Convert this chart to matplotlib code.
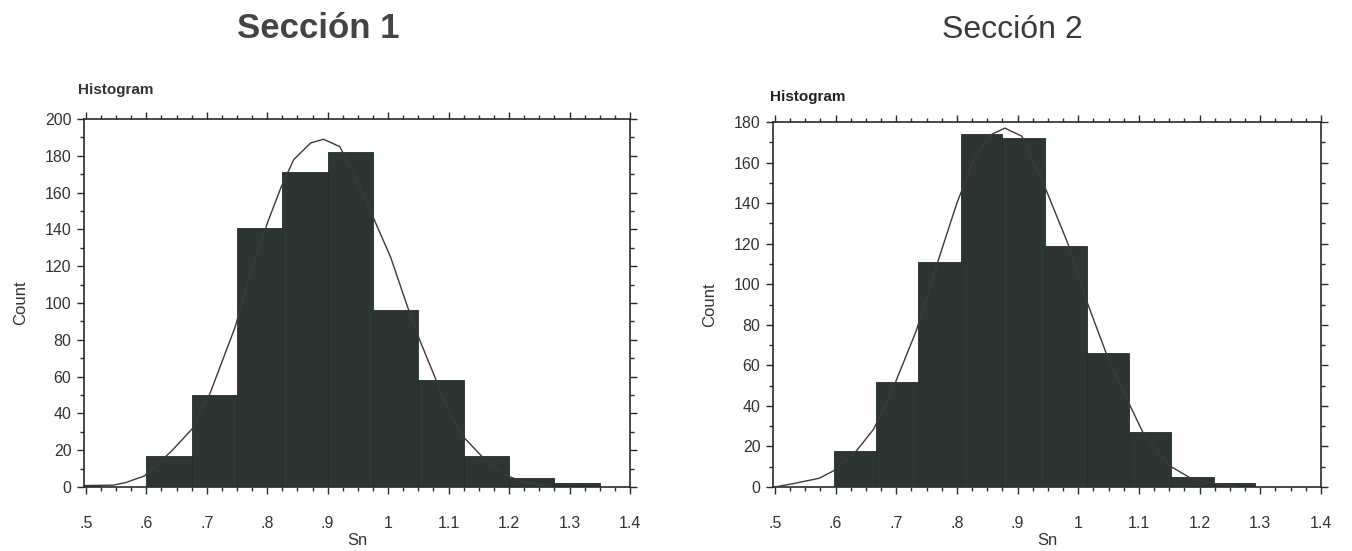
import numpy as np
import matplotlib
matplotlib.use("Agg")
import matplotlib.pyplot as plt
from matplotlib.ticker import MultipleLocator

plt.rcParams['font.family'] = ['Liberation Sans', 'DejaVu Sans']

# ---- Sección 1 ----
sec1_edges = [0.45, 0.525, 0.6, 0.675, 0.75, 0.825, 0.9, 0.975, 1.05, 1.125, 1.2, 1.275, 1.35]
sec1_counts = [1, 0, 17, 50, 141, 171, 182, 96, 58, 17, 5, 2]
sec1_curve_x = [0.5, 0.545, 0.566, 0.597, 0.642, 0.677, 0.705, 0.747, 0.774, 0.802, 0.823,
                0.844, 0.872, 0.893, 0.92, 0.948, 0.972, 1.004, 1.032, 1.052, 1.077, 1.101,
                1.125, 1.157, 1.19, 1.226, 1.26]
sec1_curve_y = [0.8, 1, 2.4, 6, 19.6, 32, 50.5, 87, 118, 145, 163,
                178, 187, 189, 185, 167, 149, 125, 98, 80, 60, 40,
                27, 16, 7, 2.4, 0.5]

# ---- Sección 2 ----
sec2_edges = [0.597, 0.667, 0.736, 0.806, 0.875, 0.945, 1.014, 1.084, 1.153, 1.223, 1.292]
sec2_counts = [18, 52, 111, 174, 172, 119, 66, 27, 5, 2]
sec2_curve_x = [0.5, 0.531, 0.573, 0.597, 0.635, 0.663, 0.698, 0.733, 0.768, 0.8, 0.83,
                0.858, 0.879, 0.907, 0.94, 0.983, 1.011, 1.046, 1.084, 1.108, 1.153,
                1.184, 1.223, 1.26]
sec2_curve_y = [0, 1.7, 4.3, 8, 18, 28.6, 51, 77, 110.6, 140, 163,
                174, 177, 173, 151.6, 120, 94, 66, 41, 26, 10,
                4.6, 1.7, 0.3]

x_ticks = [0.5, 0.6, 0.7, 0.8, 0.9, 1.0, 1.1, 1.2, 1.3, 1.4]
x_tick_labels = ['.5', '.6', '.7', '.8', '.9', '1', '1.1', '1.2', '1.3', '1.4']
sec1_y_ticks = list(range(0, 201, 20))
sec2_y_ticks = list(range(0, 181, 20))

BAR = '#2c3530'
EDGE = '#252d29'
LINE = '#3a3a3a'
TXT = '#333333'

fig = plt.figure(figsize=(13.52, 5.51), dpi=100)
fig.patch.set_facecolor('white')

ax1 = fig.add_axes([84 / 1352, 64 / 551, 546 / 1352, 368 / 551])
ax2 = fig.add_axes([773 / 1352, 64 / 551, 548 / 1352, 365 / 551])


def draw(ax, edges, counts, cx, cy, yticks, ymax):
    edges = np.asarray(edges)
    ax.bar(edges[:-1], counts, width=np.diff(edges), align='edge',
           color=BAR, edgecolor=EDGE, linewidth=0.6, zorder=2)
    ax.plot(cx, cy, color=LINE, linewidth=1.0, zorder=3)
    ax.set_xlim(0.497, 1.4)
    ax.set_ylim(0, ymax)
    ax.set_xticks(x_ticks)
    ax.set_xticklabels(x_tick_labels)
    ax.set_yticks(yticks)
    ax.xaxis.set_minor_locator(MultipleLocator(0.025))
    ax.yaxis.set_minor_locator(MultipleLocator(10))
    ax.tick_params(which='both', direction='out', top=True, right=True,
                   colors='#2a2a2a', labelcolor=TXT, labelsize=11.5, width=1.0)
    ax.tick_params(which='major', length=5, pad=4)
    ax.tick_params(which='minor', length=3)
    ax.tick_params(axis='x', which='major', pad=16)
    for s in ax.spines.values():
        s.set_color('#2a2a2a')
        s.set_linewidth(1.2)
    ax.set_xlabel('Sn', fontsize=12, color=TXT, labelpad=1)
    ax.set_ylabel('Count', fontsize=12, color=TXT, labelpad=12)


draw(ax1, sec1_edges, sec1_counts, sec1_curve_x, sec1_curve_y, sec1_y_ticks, 200)
draw(ax2, sec2_edges, sec2_counts, sec2_curve_x, sec2_curve_y, sec2_y_ticks, 180)

fig.text(78 / 1352, 1 - 90 / 551, 'Histogram', fontsize=11, fontweight='bold',
         color=TXT, ha='left', va='center')
fig.text(770 / 1352, 1 - 97 / 551, 'Histogram', fontsize=11, fontweight='bold',
         color='#222222', ha='left', va='center')

fig.text(318 / 1352, 1 - 28 / 551, 'Sección 1', fontsize=25, fontweight='bold',
         color='#444444', ha='center', va='center')
fig.text(1012 / 1352, 1 - 30 / 551, 'Sección 2', fontsize=23,
         color='#3a3a3a', ha='center', va='center')

fig.savefig('out.png', dpi=100, facecolor='white')
